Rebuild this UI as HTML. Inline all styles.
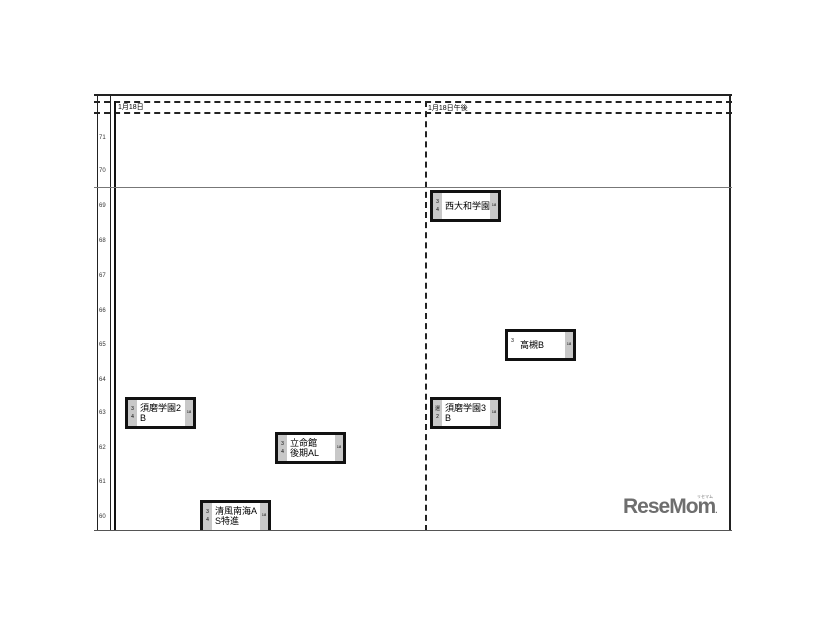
<!DOCTYPE html>
<html><head><meta charset="utf-8"><style>
body{margin:0;width:826px;height:620px;background:#fff;position:relative;overflow:hidden;font-family:"Liberation Sans","Noto Sans CJK JP",sans-serif}
.a{position:absolute}
.lbl{position:absolute;left:99px;font-size:6px;color:#333}
.box{position:absolute;width:65px;height:26px;border:3px solid #111;background:#fff;box-sizing:content-box}
.box .l{position:absolute;left:0;top:0;bottom:0;width:9px;background:#c8c8c8;font-size:5px;line-height:8px;text-align:center;padding-top:5px;box-sizing:border-box}
.box .r{position:absolute;right:0;top:0;bottom:0;width:8px;background:#c8c8c8;font-size:4px;text-align:center;padding-top:9px;box-sizing:border-box}
.box .t{position:absolute;left:12px;top:3px;font-size:9px;line-height:10px;color:#000}
.box .t1{top:8px}
</style></head><body>
<div class="a" style="left:94px;top:94px;width:638px;height:2px;background:#222"></div>
<div class="a" style="left:94px;top:101px;width:638px;border-top:2px dashed #222"></div>
<div class="a" style="left:94px;top:112px;width:638px;border-top:2px dashed #222"></div>
<div class="a" style="left:97px;top:95px;width:1px;height:436px;background:#222"></div>
<div class="a" style="left:110px;top:95px;width:1px;height:436px;background:#222"></div>
<div class="a" style="left:114px;top:101px;width:2px;height:430px;background:#111"></div>
<div class="a" style="left:425px;top:101px;height:430px;border-left:2px dashed #222"></div>
<div class="a" style="left:729px;top:95px;width:2px;height:436px;background:#222"></div>
<div class="a" style="left:94px;top:187px;width:638px;height:1px;background:#777"></div>
<div class="a" style="left:94px;top:530px;width:638px;height:1px;background:#555"></div>
<div class="a" style="left:118px;top:102px;font-size:7px">1月18日</div>
<div class="a" style="left:428px;top:103px;font-size:7px">1月18日午後</div>
<div class="lbl" style="top:135px">71</div>
<div class="lbl" style="top:168px">70</div>
<div class="lbl" style="top:203px">69</div>
<div class="lbl" style="top:238px">68</div>
<div class="lbl" style="top:273px">67</div>
<div class="lbl" style="top:308px">66</div>
<div class="lbl" style="top:342px">65</div>
<div class="lbl" style="top:377px">64</div>
<div class="lbl" style="top:410px">63</div>
<div class="lbl" style="top:445px">62</div>
<div class="lbl" style="top:479px">61</div>
<div class="lbl" style="top:514px">60</div>

<div class="box" style="left:430px;top:190px"><div class="l">3<br>4</div><div class="t t1">西大和学園</div><div class="r">18</div></div>
<div class="box" style="left:505px;top:329px"><div class="l" style="background:#fff">3</div><div class="t t1">高槻B</div><div class="r">18</div></div>
<div class="box" style="left:430px;top:397px"><div class="l">選<br>2</div><div class="t">須磨学園3<br>B</div><div class="r">18</div></div>
<div class="box" style="left:125px;top:397px"><div class="l">3<br>4</div><div class="t">須磨学園2<br>B</div><div class="r">18</div></div>
<div class="box" style="left:275px;top:432px"><div class="l">3<br>4</div><div class="t">立命館<br>後期AL</div><div class="r">18</div></div>
<div class="box" style="left:200px;top:500px;height:27px;border-bottom:none"><div class="l">3<br>4</div><div class="t">清風南海A<br>S特進</div><div class="r">18</div></div>

<div class="a" style="left:623px;top:495px;font-size:21px;font-weight:bold;color:#6e6e6e;letter-spacing:-1px">ReseMom<span style="font-size:8px">.</span></div>
<div class="a" style="left:697px;top:494px;font-size:4px;color:#777">リセマム</div>
</body></html>
